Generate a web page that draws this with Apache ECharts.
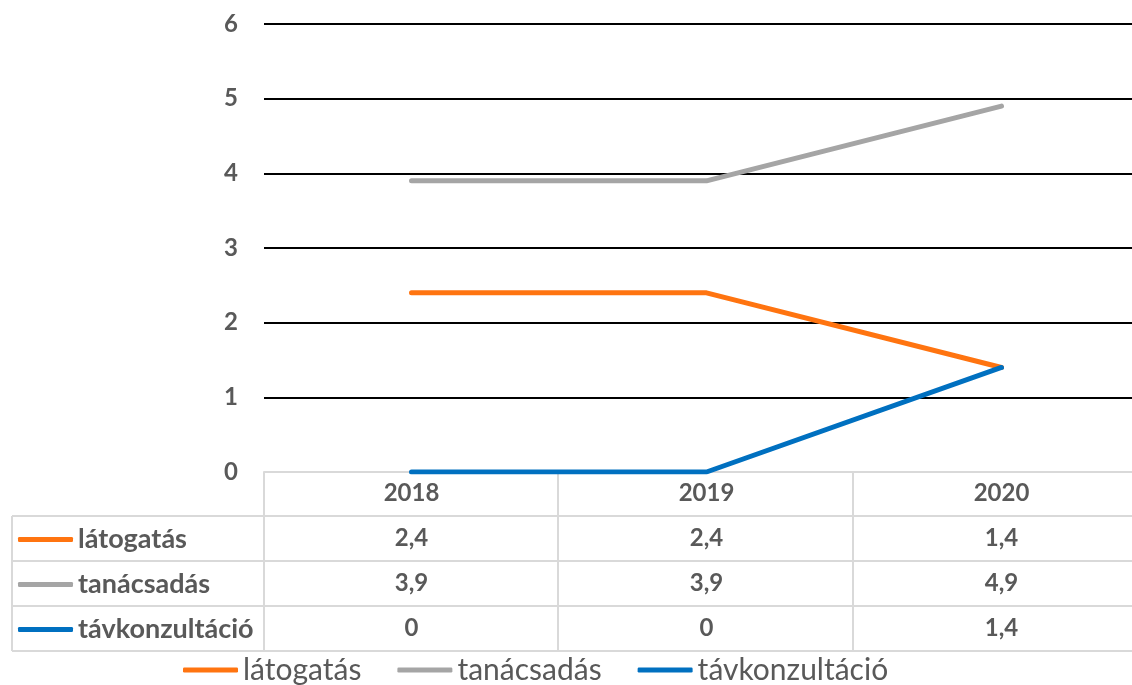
<!DOCTYPE html>
<html><head><meta charset="utf-8">
<script src="https://cdn.jsdelivr.net/npm/echarts@6/dist/echarts.min.js"></script>
<style>html,body{margin:0;padding:0;background:#fff}#c{width:1132px;height:685px}</style>
</head><body><div id="c"></div>
<script>
const categories = ['2018', '2019', '2020'];
const latogatas = [2.4, 2.4, 1.4];
const tanacsadas = [3.9, 3.9, 4.9];
const tavkonzultacio = [0, 0, 1.4];
const yTicks = [0, 1, 2, 3, 4, 5, 6];
const names = ['látogatás', 'tanácsadás', 'távkonzultáció'];
const colors = ['#FF7410', '#A5A5A5', '#0070C0'];

const fmt = v => String(v).replace('.', ',');
const txt = '#595959';
const font = 'Lato, "Open Sans", sans-serif';
const rows = [latogatas, tanacsadas, tavkonzultacio];

const chart = echarts.init(document.getElementById('c'));
const gridTop = 24, gridBottomY = 472, rowH = 45, tableLeft = 12;
const colX = [264, 558, 853];
const lineStyle = {stroke: '#D9D9D9', lineWidth: 2};
const graphic = [];
for (let r = 1; r <= 4; r++) {
  const y = gridBottomY + r * rowH - 1;
  graphic.push({type: 'line', shape: {x1: tableLeft, y1: y, x2: 1132, y2: y}, style: lineStyle, silent: true});
}
graphic.push({type: 'line', shape: {x1: tableLeft, y1: gridBottomY + rowH - 1, x2: tableLeft, y2: gridBottomY + 4 * rowH - 1}, style: lineStyle, silent: true});
colX.forEach(x => graphic.push({type: 'line', shape: {x1: x, y1: gridBottomY, x2: x, y2: gridBottomY + 4 * rowH - 1}, style: lineStyle, silent: true}));

const numLabel = {color: txt, fontSize: 24, fontWeight: 'bold', fontFamily: font, margin: 9};
const xAxes = [{
  type: 'category', data: categories, boundaryGap: true, position: 'bottom',
  axisLine: {show: true, lineStyle: {color: '#D9D9D9', width: 2}},
  axisTick: {show: false},
  axisLabel: numLabel
}];
rows.forEach((arr, k) => {
  xAxes.push({
    type: 'category', data: categories, position: 'bottom', offset: rowH * (k + 1),
    axisLine: {show: false}, axisTick: {show: false},
    axisLabel: Object.assign({}, numLabel, {formatter: (v, i) => fmt(arr[i])})
  });
});

const rowLegends = names.map((n, k) => ({
  data: [n], left: 18, top: gridBottomY + rowH * (k + 1) + 9, orient: 'horizontal', padding: 0,
  icon: 'roundRect', itemWidth: 55, itemHeight: 5, itemGap: 6, selectedMode: false,
  textStyle: {color: txt, fontSize: 27, fontWeight: 'bold', fontFamily: font}
}));
rowLegends.push({
  data: names, left: 183, top: 655, padding: 0, icon: 'roundRect', itemWidth: 55, itemHeight: 5, itemGap: 36,
  selectedMode: false,
  textStyle: {color: txt, fontSize: 30, fontFamily: font}
});

chart.setOption({
  animation: false,
  color: colors,
  grid: {left: 264, width: 885, top: gridTop, bottom: 685 - gridBottomY, containLabel: false, outerBoundsMode: 'none'},
  legend: rowLegends,
  xAxis: xAxes,
  yAxis: {
    type: 'value', min: yTicks[0], max: yTicks[yTicks.length - 1], interval: 1,
    axisLine: {show: false}, axisTick: {show: false},
    splitLine: {lineStyle: {color: '#000', width: 2}},
    axisLabel: {color: txt, fontSize: 24, fontWeight: 'bold', fontFamily: font, margin: 26}
  },
  graphic: graphic,
  series: names.map((n, k) => ({
    name: n, type: 'line', data: rows[k], showSymbol: false, symbol: 'none',
    lineStyle: {width: 5, color: colors[k], cap: 'round'},
    itemStyle: {color: colors[k]}, z: 3 + k
  }))
});
</script></body></html>
